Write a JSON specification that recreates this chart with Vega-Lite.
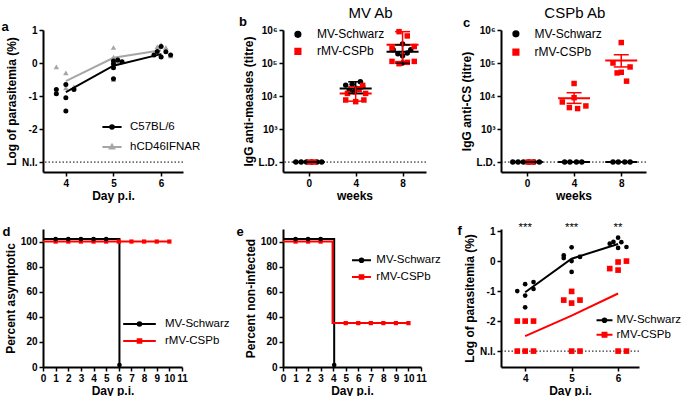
{
"$schema": "https://vega.github.io/schema/vega-lite/v6.json",
"background": "white",
"padding": {"left": 1, "top": 5, "right": 0, "bottom": 0},
"bounds": "flush",
"columns": 5,
"spacing": {"row": 57, "column": 0},
"align": {"row": "all", "column": "none"},
"resolve": {"scale": {"color": "independent", "fill": "independent", "stroke": "independent", "shape": "independent"}, "legend": {"color": "independent", "fill": "independent", "stroke": "independent", "shape": "independent"}},
"config": {
  "font": "Liberation Sans",
  "view": {"stroke": null},
  "axis": {"domainColor": "#000", "domainWidth": 2, "tickColor": "#000", "tickWidth": 1.5, "tickSize": 4, "labelFont": "Liberation Sans", "labelFontWeight": "bold", "labelFontSize": 10, "labelColor": "#000", "titleFont": "Liberation Sans", "titleFontWeight": "bold", "titleFontSize": 12, "titleColor": "#000", "grid": false, "labelFlush": false, "labelOverlap": false, "labelPadding": 2, "titlePadding": 3},
  "axisX": {"labelPadding": 2, "titlePadding": 2},
  "legend": {"labelFont": "Liberation Sans", "labelFontSize": 11.5, "labelColor": "#000", "padding": 0},
  "title": {"font": "Liberation Sans", "fontSize": 13, "fontWeight": "bold", "anchor": "start", "frame": "group", "baseline": "alphabetic", "offset": 0, "color": "#000"}
},
"datasets": {
  "a_pts": [
    {"s": "hCD46IFNAR", "day": 3.8, "val": -0.12}, {"s": "hCD46IFNAR", "day": 4.0, "val": -0.3}, {"s": "hCD46IFNAR", "day": 4.17, "val": -0.72}, {"s": "hCD46IFNAR", "day": 4.0, "val": -0.75}, {"s": "hCD46IFNAR", "day": 3.8, "val": -0.88},
    {"s": "hCD46IFNAR", "day": 5.0, "val": 0.18}, {"s": "hCD46IFNAR", "day": 5.0, "val": 0.47}, {"s": "hCD46IFNAR", "day": 5.0, "val": -0.5}, {"s": "hCD46IFNAR", "day": 5.09, "val": 0.05},
    {"s": "hCD46IFNAR", "day": 5.92, "val": 0.5}, {"s": "hCD46IFNAR", "day": 6.0, "val": 0.56}, {"s": "hCD46IFNAR", "day": 6.1, "val": 0.47}, {"s": "hCD46IFNAR", "day": 6.0, "val": 0.25}, {"s": "hCD46IFNAR", "day": 6.2, "val": 0.22},
    {"s": "C57BL/6", "day": 3.8, "val": -0.8}, {"s": "C57BL/6", "day": 3.8, "val": -0.93}, {"s": "C57BL/6", "day": 4.0, "val": -0.65}, {"s": "C57BL/6", "day": 4.0, "val": -1.05}, {"s": "C57BL/6", "day": 4.0, "val": -1.45}, {"s": "C57BL/6", "day": 4.17, "val": -0.8},
    {"s": "C57BL/6", "day": 5.0, "val": 0.06}, {"s": "C57BL/6", "day": 5.0, "val": -0.03}, {"s": "C57BL/6", "day": 5.0, "val": -0.14}, {"s": "C57BL/6", "day": 5.0, "val": -0.48}, {"s": "C57BL/6", "day": 5.09, "val": 0.09}, {"s": "C57BL/6", "day": 5.18, "val": 0.04},
    {"s": "C57BL/6", "day": 5.85, "val": 0.24}, {"s": "C57BL/6", "day": 5.92, "val": 0.35}, {"s": "C57BL/6", "day": 6.0, "val": 0.5}, {"s": "C57BL/6", "day": 6.0, "val": 0.18}, {"s": "C57BL/6", "day": 6.1, "val": 0.34}, {"s": "C57BL/6", "day": 6.2, "val": 0.24}
  ],
  "a_line": [
    {"s": "hCD46IFNAR", "day": 4, "val": -0.55}, {"s": "hCD46IFNAR", "day": 5, "val": 0.16}, {"s": "hCD46IFNAR", "day": 6, "val": 0.39},
    {"s": "C57BL/6", "day": 4, "val": -0.88}, {"s": "C57BL/6", "day": 5, "val": -0.08}, {"s": "C57BL/6", "day": 6, "val": 0.27}
  ],
  "b_pts": [
    {"g": "MV-Schwarz", "week": -1.1, "titre": 100}, {"g": "MV-Schwarz", "week": -0.65, "titre": 100}, {"g": "MV-Schwarz", "week": -0.2, "titre": 100}, {"g": "MV-Schwarz", "week": 0.25, "titre": 100}, {"g": "MV-Schwarz", "week": 0.7, "titre": 100}, {"g": "MV-Schwarz", "week": 1.1, "titre": 100},
    {"g": "MV-Schwarz", "week": 3.15, "titre": 21400}, {"g": "MV-Schwarz", "week": 3.7, "titre": 22900}, {"g": "MV-Schwarz", "week": 4.4, "titre": 26900}, {"g": "MV-Schwarz", "week": 3.45, "titre": 15100}, {"g": "MV-Schwarz", "week": 3.85, "titre": 13500}, {"g": "MV-Schwarz", "week": 4.1, "titre": 17000}, {"g": "MV-Schwarz", "week": 4.6, "titre": 19000},
    {"g": "MV-Schwarz", "week": 7.2, "titre": 251000}, {"g": "MV-Schwarz", "week": 8.0, "titre": 380000}, {"g": "MV-Schwarz", "week": 8.7, "titre": 251000}, {"g": "MV-Schwarz", "week": 7.6, "titre": 190000}, {"g": "MV-Schwarz", "week": 8.0, "titre": 166000}, {"g": "MV-Schwarz", "week": 8.4, "titre": 200000}, {"g": "MV-Schwarz", "week": 8.0, "titre": 100000},
    {"g": "rMV-CSPb", "week": 0.05, "titre": 100}, {"g": "rMV-CSPb", "week": 0.45, "titre": 100},
    {"g": "rMV-CSPb", "week": 3.15, "titre": 7590}, {"g": "rMV-CSPb", "week": 4.0, "titre": 6760}, {"g": "rMV-CSPb", "week": 4.7, "titre": 7590}, {"g": "rMV-CSPb", "week": 4.85, "titre": 12000}, {"g": "rMV-CSPb", "week": 3.3, "titre": 12000}, {"g": "rMV-CSPb", "week": 4.3, "titre": 16000}, {"g": "rMV-CSPb", "week": 4.6, "titre": 21000},
    {"g": "rMV-CSPb", "week": 7.1, "titre": 282000}, {"g": "rMV-CSPb", "week": 7.7, "titre": 891000}, {"g": "rMV-CSPb", "week": 8.4, "titre": 661000}, {"g": "rMV-CSPb", "week": 9.0, "titre": 316000}, {"g": "rMV-CSPb", "week": 7.1, "titre": 112000}, {"g": "rMV-CSPb", "week": 7.7, "titre": 95500}, {"g": "rMV-CSPb", "week": 8.4, "titre": 105000}, {"g": "rMV-CSPb", "week": 9.0, "titre": 112000}
  ],
  "b_sum": [
    {"g": "MV-Schwarz", "week": 0, "mean": 100, "lo": 100, "hi": 100},
    {"g": "MV-Schwarz", "week": 4, "mean": 17000, "lo": 12000, "hi": 27000},
    {"g": "MV-Schwarz", "week": 8, "mean": 219000, "lo": 100000, "hi": 355000},
    {"g": "rMV-CSPb", "week": 4, "mean": 12000, "lo": 7000, "hi": 19000},
    {"g": "rMV-CSPb", "week": 8, "mean": 355000, "lo": 110000, "hi": 890000}
  ],
  "c_pts": [
    {"g": "MV-Schwarz", "week": -1.2, "titre": 100}, {"g": "MV-Schwarz", "week": -0.75, "titre": 100}, {"g": "MV-Schwarz", "week": -0.3, "titre": 100}, {"g": "MV-Schwarz", "week": 0.15, "titre": 100}, {"g": "MV-Schwarz", "week": 0.6, "titre": 100}, {"g": "MV-Schwarz", "week": 1.05, "titre": 100},
    {"g": "MV-Schwarz", "week": 3.2, "titre": 100}, {"g": "MV-Schwarz", "week": 3.65, "titre": 100}, {"g": "MV-Schwarz", "week": 4.2, "titre": 100}, {"g": "MV-Schwarz", "week": 4.65, "titre": 100},
    {"g": "MV-Schwarz", "week": 7.3, "titre": 100}, {"g": "MV-Schwarz", "week": 7.75, "titre": 100}, {"g": "MV-Schwarz", "week": 8.3, "titre": 100}, {"g": "MV-Schwarz", "week": 8.75, "titre": 100},
    {"g": "rMV-CSPb", "week": 0.1, "titre": 100}, {"g": "rMV-CSPb", "week": 0.5, "titre": 100},
    {"g": "rMV-CSPb", "week": 4.0, "titre": 24000}, {"g": "rMV-CSPb", "week": 4.0, "titre": 8900}, {"g": "rMV-CSPb", "week": 3.0, "titre": 6600}, {"g": "rMV-CSPb", "week": 3.6, "titre": 4470}, {"g": "rMV-CSPb", "week": 4.3, "titre": 4170}, {"g": "rMV-CSPb", "week": 5.0, "titre": 5010},
    {"g": "rMV-CSPb", "week": 8.0, "titre": 417000}, {"g": "rMV-CSPb", "week": 7.3, "titre": 100000}, {"g": "rMV-CSPb", "week": 8.75, "titre": 75900}, {"g": "rMV-CSPb", "week": 8.0, "titre": 52500}, {"g": "rMV-CSPb", "week": 7.65, "titre": 50100}, {"g": "rMV-CSPb", "week": 8.45, "titre": 28200}
  ],
  "c_sum": [
    {"g": "MV-Schwarz", "week": 0, "mean": 100, "lo": 100, "hi": 100},
    {"g": "MV-Schwarz", "week": 4, "mean": 100, "lo": 100, "hi": 100},
    {"g": "MV-Schwarz", "week": 8, "mean": 100, "lo": 100, "hi": 100},
    {"g": "rMV-CSPb", "week": 4, "mean": 8500, "lo": 6000, "hi": 12600},
    {"g": "rMV-CSPb", "week": 8, "mean": 120000, "lo": 76000, "hi": 178000}
  ],
  "d_line": [
    {"g": "MV-Schwarz", "day": 0, "pct": 102}, {"g": "MV-Schwarz", "day": 6.05, "pct": 1.5},
    {"g": "rMV-CSPb", "day": 0, "pct": 100}, {"g": "rMV-CSPb", "day": 10, "pct": 100}
  ],
  "d_pts": [
    {"g": "rMV-CSPb", "day": 1, "pct": 100}, {"g": "rMV-CSPb", "day": 2, "pct": 100}, {"g": "rMV-CSPb", "day": 3, "pct": 100}, {"g": "rMV-CSPb", "day": 4, "pct": 100}, {"g": "rMV-CSPb", "day": 5, "pct": 100}, {"g": "rMV-CSPb", "day": 6, "pct": 100}, {"g": "rMV-CSPb", "day": 7, "pct": 100}, {"g": "rMV-CSPb", "day": 8, "pct": 100}, {"g": "rMV-CSPb", "day": 9, "pct": 100}, {"g": "rMV-CSPb", "day": 10, "pct": 100},
    {"g": "MV-Schwarz", "day": 1, "pct": 102}, {"g": "MV-Schwarz", "day": 2, "pct": 102}, {"g": "MV-Schwarz", "day": 3, "pct": 102}, {"g": "MV-Schwarz", "day": 4, "pct": 102}, {"g": "MV-Schwarz", "day": 5, "pct": 102}, {"g": "MV-Schwarz", "day": 6.05, "pct": 1.5}
  ],
  "e_line": [
    {"g": "MV-Schwarz", "day": 0, "pct": 102}, {"g": "MV-Schwarz", "day": 4.08, "pct": 1.5},
    {"g": "rMV-CSPb", "day": 0, "pct": 100}, {"g": "rMV-CSPb", "day": 3.95, "pct": 35}, {"g": "rMV-CSPb", "day": 10, "pct": 35}
  ],
  "e_pts": [
    {"g": "rMV-CSPb", "day": 1, "pct": 100}, {"g": "rMV-CSPb", "day": 2, "pct": 100}, {"g": "rMV-CSPb", "day": 3, "pct": 100}, {"g": "rMV-CSPb", "day": 5, "pct": 35}, {"g": "rMV-CSPb", "day": 6, "pct": 35}, {"g": "rMV-CSPb", "day": 7, "pct": 35}, {"g": "rMV-CSPb", "day": 8, "pct": 35}, {"g": "rMV-CSPb", "day": 9, "pct": 35}, {"g": "rMV-CSPb", "day": 10, "pct": 35},
    {"g": "MV-Schwarz", "day": 1, "pct": 102}, {"g": "MV-Schwarz", "day": 2, "pct": 102}, {"g": "MV-Schwarz", "day": 3, "pct": 102}, {"g": "MV-Schwarz", "day": 4.08, "pct": 1.5}
  ],
  "f_pts": [
    {"g": "rMV-CSPb", "day": 3.83, "val": -2}, {"g": "rMV-CSPb", "day": 4.0, "val": -2}, {"g": "rMV-CSPb", "day": 4.18, "val": -2}, {"g": "rMV-CSPb", "day": 3.83, "val": -3}, {"g": "rMV-CSPb", "day": 4.0, "val": -3}, {"g": "rMV-CSPb", "day": 4.18, "val": -3},
    {"g": "rMV-CSPb", "day": 4.83, "val": -1.3}, {"g": "rMV-CSPb", "day": 5.0, "val": -1.01}, {"g": "rMV-CSPb", "day": 5.0, "val": -1.4}, {"g": "rMV-CSPb", "day": 5.18, "val": -1.3}, {"g": "rMV-CSPb", "day": 5.0, "val": -3}, {"g": "rMV-CSPb", "day": 5.18, "val": -3},
    {"g": "rMV-CSPb", "day": 5.82, "val": -0.25}, {"g": "rMV-CSPb", "day": 6.0, "val": -0.03}, {"g": "rMV-CSPb", "day": 6.0, "val": -0.3}, {"g": "rMV-CSPb", "day": 6.18, "val": 0.0}, {"g": "rMV-CSPb", "day": 6.0, "val": -3}, {"g": "rMV-CSPb", "day": 6.18, "val": -3},
    {"g": "MV-Schwarz", "day": 3.83, "val": -1.0}, {"g": "MV-Schwarz", "day": 4.0, "val": -0.77}, {"g": "MV-Schwarz", "day": 4.0, "val": -1.15}, {"g": "MV-Schwarz", "day": 4.0, "val": -1.54}, {"g": "MV-Schwarz", "day": 4.18, "val": -0.7}, {"g": "MV-Schwarz", "day": 4.18, "val": -0.93},
    {"g": "MV-Schwarz", "day": 4.83, "val": 0.19}, {"g": "MV-Schwarz", "day": 4.83, "val": 0.1}, {"g": "MV-Schwarz", "day": 5.0, "val": 0.46}, {"g": "MV-Schwarz", "day": 5.0, "val": 0.0}, {"g": "MV-Schwarz", "day": 5.0, "val": -0.36}, {"g": "MV-Schwarz", "day": 5.18, "val": 0.14},
    {"g": "MV-Schwarz", "day": 5.82, "val": 0.58}, {"g": "MV-Schwarz", "day": 5.9, "val": 0.64}, {"g": "MV-Schwarz", "day": 6.0, "val": 0.78}, {"g": "MV-Schwarz", "day": 6.0, "val": 0.44}, {"g": "MV-Schwarz", "day": 6.07, "val": 0.63}, {"g": "MV-Schwarz", "day": 6.18, "val": 0.47}
  ],
  "f_line": [
    {"g": "MV-Schwarz", "day": 4, "val": -1.04}, {"g": "MV-Schwarz", "day": 5, "val": 0.08}, {"g": "MV-Schwarz", "day": 6, "val": 0.57},
    {"g": "rMV-CSPb", "day": 4, "val": -2.5}, {"g": "rMV-CSPb", "day": 5, "val": -1.82}, {"g": "rMV-CSPb", "day": 6, "val": -1.08}
  ],
  "f_stars": [
    {"day": 4, "stars": "***"}, {"day": 5, "stars": "***"}, {"day": 6, "stars": "**"}
  ]
},
"concat": [
  {
    "width": 140, "height": 142,
    "title": {"text": "a", "dx": -41.5, "dy": 13},
    "layer": [
      {"data": {"values": [{}]}, "mark": {"type": "rule", "strokeDash": [1.5, 2], "strokeWidth": 1, "color": "#000"}, "encoding": {"y": {"datum": -3, "type": "quantitative", "scale": {"domain": [-3.3, 1], "nice": false, "zero": false}}}},
      {"data": {"name": "a_line"}, "transform": [{"filter": "datum.s == 'hCD46IFNAR'"}], "mark": {"type": "line", "color": "#a6a6a6", "strokeWidth": 2},
       "encoding": {"x": {"field": "day", "type": "quantitative", "scale": {"domain": [3.52, 6.46], "nice": false, "zero": false}}, "y": {"field": "val", "type": "quantitative"}}},
      {"data": {"name": "a_pts"}, "transform": [{"filter": "datum.s == 'hCD46IFNAR'"}], "mark": {"type": "point", "shape": "triangle-up", "filled": true, "opacity": 1, "color": "#a6a6a6", "size": 30},
       "encoding": {"x": {"field": "day", "type": "quantitative"}, "y": {"field": "val", "type": "quantitative"}}},
      {"data": {"name": "a_line"}, "transform": [{"filter": "datum.s == 'C57BL/6'"}], "mark": {"type": "line", "color": "#000", "strokeWidth": 2},
       "encoding": {"x": {"field": "day", "type": "quantitative"}, "y": {"field": "val", "type": "quantitative"}}},
      {"data": {"name": "a_pts"}, "transform": [{"filter": "datum.s == 'C57BL/6'"}], "mark": {"type": "point", "shape": "circle", "filled": true, "opacity": 1, "color": "#000", "size": 25},
       "encoding": {
         "x": {"field": "day", "type": "quantitative", "scale": {"domain": [3.52, 6.46], "nice": false, "zero": false}, "axis": {"values": [4, 5, 6], "format": "d", "title": "Day p.i.", "labelOverlap": false}},
         "y": {"field": "val", "type": "quantitative", "scale": {"domain": [-3.3, 1], "nice": false, "zero": false}, "axis": {"values": [-3, -2, -1, 0, 1], "tickCount": 20, "title": "Log of parasitemia (%)", "labelOverlap": false, "labelExpr": "datum.value == -3 ? 'N.I.' : (datum.value < 0 ? '-' + abs(datum.value) : '' + datum.value)"}}
       }},
      {"data": {"values": []}, "mark": {"type": "point", "filled": true, "opacity": 1},
       "encoding": {
         "x": {"field": "day", "type": "quantitative"}, "y": {"field": "val", "type": "quantitative"},
         "fill": {"field": "s", "type": "nominal", "scale": {"domain": ["C57BL/6", "hCD46IFNAR"], "range": ["#000", "#a6a6a6"]}, "legend": {"title": null, "orient": "none", "legendX": 62, "legendY": 90, "symbolSize": 144, "symbolStrokeWidth": 2, "labelOffset": 11, "rowPadding": 7, "labelFontSize": 11.5}},
         "stroke": {"field": "s", "type": "nominal", "scale": {"domain": ["C57BL/6", "hCD46IFNAR"], "range": ["#000", "#a6a6a6"]}, "legend": {"title": null, "orient": "none", "legendX": 62, "legendY": 90, "symbolSize": 144, "symbolStrokeWidth": 2, "labelOffset": 11, "rowPadding": 7, "labelFontSize": 11.5}},
         "shape": {"field": "s", "type": "nominal", "scale": {"domain": ["C57BL/6", "hCD46IFNAR"], "range": ["M-1.6,0H1.6M-0.3,0A0.3,0.3,0,1,0,0.3,0A0.3,0.3,0,1,0,-0.3,0Z", "M-1.6,0H1.6M0,-0.38L0.36,0.26L-0.36,0.26Z"]}, "legend": {"title": null, "orient": "none", "legendX": 62, "legendY": 90, "symbolSize": 144, "symbolStrokeWidth": 2, "labelOffset": 11, "rowPadding": 7, "labelFontSize": 11.5}}
       }}
    ]
  },
  {"width": 92.5, "height": 142, "data": {"values": []}, "mark": "point", "encoding": {}},
  {
    "width": 143, "height": 142,
    "title": {"text": "b", "dx": -44, "dy": 28},
    "resolve": {"axis": {"x": "independent"}},
    "layer": [
      {"data": {"values": [{}]}, "mark": {"type": "rule", "strokeDash": [1.5, 2], "strokeWidth": 1, "color": "#000"},
       "encoding": {"y": {"datum": 100, "type": "quantitative", "scale": {"type": "log", "domain": [50, 1000000], "nice": false}}}},
      {"data": {"name": "b_pts"}, "mark": {"type": "point", "filled": true, "opacity": 1, "size": 30},
       "encoding": {
         "x": {"field": "week", "type": "quantitative", "scale": {"domain": [-2.2, 10], "nice": false, "zero": false}, "axis": {"values": [0, 4, 8], "format": "d", "title": "weeks", "labelOverlap": false}},
         "y": {"field": "titre", "type": "quantitative", "scale": {"type": "log", "domain": [50, 1000000], "nice": false}, "axis": {"values": [100, 1000, 10000, 100000, 1000000], "title": "IgG anti-measles (titre)", "labelOverlap": false, "labelExpr": "datum.value == 100 ? 'L.D.' : datum.value == 1000 ? '10³' : datum.value == 10000 ? '10⁴' : datum.value == 100000 ? '10⁵' : '10⁶'"}},
         "color": {"field": "g", "type": "nominal", "scale": {"domain": ["MV-Schwarz", "rMV-CSPb"], "range": ["#000", "#ff0000"]}, "legend": {"title": null, "orient": "none", "legendX": 8.9, "legendY": -1.7, "symbolSize": 32, "labelOffset": 13, "rowPadding": 5, "labelFontSize": 12}},
         "shape": {"field": "g", "type": "nominal", "scale": {"domain": ["MV-Schwarz", "rMV-CSPb"], "range": ["circle", "square"]}, "legend": {"title": null, "orient": "none", "legendX": 8.9, "legendY": -1.7, "symbolSize": 32, "labelOffset": 13, "rowPadding": 5, "labelFontSize": 12}}
       }},
      {"data": {"name": "b_sum"}, "mark": {"type": "tick", "orient": "horizontal", "size": 32, "thickness": 2, "opacity": 1},
       "encoding": {"x": {"field": "week", "type": "quantitative", "axis": null}, "y": {"field": "mean", "type": "quantitative"}, "color": {"field": "g", "type": "nominal", "legend": null}}},
      {"data": {"name": "b_sum"}, "mark": {"type": "tick", "orient": "horizontal", "size": 15, "thickness": 1.5, "opacity": 1},
       "encoding": {"x": {"field": "week", "type": "quantitative", "axis": null}, "y": {"field": "hi", "type": "quantitative"}, "color": {"field": "g", "type": "nominal", "legend": null}}},
      {"data": {"name": "b_sum"}, "mark": {"type": "tick", "orient": "horizontal", "size": 15, "thickness": 1.5, "opacity": 1},
       "encoding": {"x": {"field": "week", "type": "quantitative", "axis": null}, "y": {"field": "lo", "type": "quantitative"}, "color": {"field": "g", "type": "nominal", "legend": null}}},
      {"data": {"name": "b_sum"}, "mark": {"type": "rule", "strokeWidth": 1.5},
       "encoding": {"x": {"field": "week", "type": "quantitative", "axis": null}, "y": {"field": "lo", "type": "quantitative"}, "y2": {"field": "hi"}, "color": {"field": "g", "type": "nominal", "legend": null}}},
      {"data": {"values": []}, "mark": "point",
       "encoding": {"y": {"field": "titre", "type": "quantitative"}, "x": {"field": "week", "type": "quantitative", "axis": {"orient": "top", "title": "MV Ab", "domain": false, "ticks": false, "labels": false, "titleFontSize": 15, "titleFontWeight": "normal", "titleX": 87, "titleY": -12.7, "titleBaseline": "alphabetic", "titleAlign": "center"}}}}
    ]
  },
  {"width": 75, "height": 142, "data": {"values": []}, "mark": "point", "encoding": {}},
  {
    "width": 145, "height": 142,
    "title": {"text": "c", "dx": -38, "dy": 29},
    "resolve": {"axis": {"x": "independent"}},
    "layer": [
      {"data": {"values": [{}]}, "mark": {"type": "rule", "strokeDash": [1.5, 2], "strokeWidth": 1, "color": "#000"},
       "encoding": {"y": {"datum": 100, "type": "quantitative", "scale": {"type": "log", "domain": [50, 1000000], "nice": false}}}},
      {"data": {"name": "c_pts"}, "mark": {"type": "point", "filled": true, "opacity": 1, "size": 30},
       "encoding": {
         "x": {"field": "week", "type": "quantitative", "scale": {"domain": [-2.2, 10.1], "nice": false, "zero": false}, "axis": {"values": [0, 4, 8], "format": "d", "title": "weeks", "labelOverlap": false}},
         "y": {"field": "titre", "type": "quantitative", "scale": {"type": "log", "domain": [50, 1000000], "nice": false}, "axis": {"values": [100, 1000, 10000, 100000, 1000000], "title": "IgG anti-CS (titre)", "labelOverlap": false, "labelExpr": "datum.value == 100 ? 'L.D.' : datum.value == 1000 ? '10³' : datum.value == 10000 ? '10⁴' : datum.value == 100000 ? '10⁵' : '10⁶'"}},
         "color": {"field": "g", "type": "nominal", "scale": {"domain": ["MV-Schwarz", "rMV-CSPb"], "range": ["#000", "#ff0000"]}, "legend": {"title": null, "orient": "none", "legendX": 8.9, "legendY": -2.2, "symbolSize": 32, "labelOffset": 12.5, "rowPadding": 6.4, "labelFontSize": 12}},
         "shape": {"field": "g", "type": "nominal", "scale": {"domain": ["MV-Schwarz", "rMV-CSPb"], "range": ["circle", "square"]}, "legend": {"title": null, "orient": "none", "legendX": 8.9, "legendY": -2.2, "symbolSize": 32, "labelOffset": 12.5, "rowPadding": 6.4, "labelFontSize": 12}}
       }},
      {"data": {"name": "c_sum"}, "mark": {"type": "tick", "orient": "horizontal", "size": 32, "thickness": 2, "opacity": 1},
       "encoding": {"x": {"field": "week", "type": "quantitative", "axis": null}, "y": {"field": "mean", "type": "quantitative"}, "color": {"field": "g", "type": "nominal", "legend": null}}},
      {"data": {"name": "c_sum"}, "mark": {"type": "tick", "orient": "horizontal", "size": 15, "thickness": 1.5, "opacity": 1},
       "encoding": {"x": {"field": "week", "type": "quantitative", "axis": null}, "y": {"field": "hi", "type": "quantitative"}, "color": {"field": "g", "type": "nominal", "legend": null}}},
      {"data": {"name": "c_sum"}, "mark": {"type": "tick", "orient": "horizontal", "size": 15, "thickness": 1.5, "opacity": 1},
       "encoding": {"x": {"field": "week", "type": "quantitative", "axis": null}, "y": {"field": "lo", "type": "quantitative"}, "color": {"field": "g", "type": "nominal", "legend": null}}},
      {"data": {"name": "c_sum"}, "mark": {"type": "rule", "strokeWidth": 1.5},
       "encoding": {"x": {"field": "week", "type": "quantitative", "axis": null}, "y": {"field": "lo", "type": "quantitative"}, "y2": {"field": "hi"}, "color": {"field": "g", "type": "nominal", "legend": null}}},
      {"data": {"values": []}, "mark": "point",
       "encoding": {"y": {"field": "titre", "type": "quantitative"}, "x": {"field": "week", "type": "quantitative", "axis": {"orient": "top", "title": "CSPb Ab", "domain": false, "ticks": false, "labels": false, "titleFontSize": 15, "titleFontWeight": "normal", "titleX": 73.3, "titleY": -12.7, "titleBaseline": "alphabetic", "titleAlign": "center"}}}}
    ]
  },
  {
    "width": 139, "height": 138,
    "title": {"text": "d", "dx": -40.5, "dy": 14},
    "encoding": {
      "x": {"field": "day", "type": "quantitative", "scale": {"domain": [0, 11], "nice": false, "zero": false}, "axis": {"values": [0, 1, 2, 3, 4, 5, 6, 7, 8, 9, 10, 11], "format": "d", "title": "Day p.i.", "labelOverlap": false}},
      "y": {"field": "pct", "type": "quantitative", "scale": {"domain": [0, 110], "nice": false, "zero": false}, "axis": {"values": [0, 20, 40, 60, 80, 100], "format": "d", "title": "Percent asymptotic", "labelOverlap": false}}
    },
    "layer": [
      {"data": {"name": "d_line"}, "transform": [{"filter": "datum.g == 'MV-Schwarz'"}], "mark": {"type": "line", "interpolate": "step-after", "color": "#000", "strokeWidth": 2}},
      {"data": {"name": "d_line"}, "transform": [{"filter": "datum.g == 'rMV-CSPb'"}], "mark": {"type": "line", "interpolate": "step-after", "color": "#ff0000", "strokeWidth": 2}},
      {"data": {"name": "d_pts"}, "transform": [{"filter": "datum.g == 'rMV-CSPb'"}], "mark": {"type": "point", "shape": "square", "filled": true, "opacity": 1, "color": "#ff0000", "size": 18}},
      {"data": {"name": "d_pts"}, "transform": [{"filter": "datum.g == 'MV-Schwarz'"}], "mark": {"type": "point", "shape": "circle", "filled": true, "opacity": 1, "color": "#000", "size": 22}},
      {"data": {"values": []}, "mark": {"type": "point", "filled": true, "opacity": 1},
       "encoding": {
         "fill": {"field": "g", "type": "nominal", "scale": {"domain": ["MV-Schwarz", "rMV-CSPb"], "range": ["#000", "#ff0000"]}, "legend": {"title": null, "orient": "none", "legendX": 89.5, "legendY": 88, "symbolSize": 144, "symbolStrokeWidth": 2, "labelOffset": 18.5, "rowPadding": 4, "labelFontSize": 11.5}},
         "stroke": {"field": "g", "type": "nominal", "scale": {"domain": ["MV-Schwarz", "rMV-CSPb"], "range": ["#000", "#ff0000"]}, "legend": {"title": null, "orient": "none", "legendX": 89.5, "legendY": 88, "symbolSize": 144, "symbolStrokeWidth": 2, "labelOffset": 18.5, "rowPadding": 4, "labelFontSize": 11.5}},
         "shape": {"field": "g", "type": "nominal", "scale": {"domain": ["MV-Schwarz", "rMV-CSPb"], "range": ["M-2.72,0H2.72M-0.3,0A0.3,0.3,0,1,0,0.3,0A0.3,0.3,0,1,0,-0.3,0Z", "M-2.72,0H2.72M-0.3,-0.3H0.3V0.3H-0.3Z"]}, "legend": {"title": null, "orient": "none", "legendX": 89.5, "legendY": 88, "symbolSize": 144, "symbolStrokeWidth": 2, "labelOffset": 18.5, "rowPadding": 4, "labelFontSize": 11.5}}
       }}
    ]
  },
  {"width": 100, "height": 138, "data": {"values": []}, "mark": "point", "encoding": {}},
  {
    "width": 138, "height": 138,
    "title": {"text": "e", "dx": -46.5, "dy": 14},
    "encoding": {
      "x": {"field": "day", "type": "quantitative", "scale": {"domain": [0, 11], "nice": false, "zero": false}, "axis": {"values": [0, 1, 2, 3, 4, 5, 6, 7, 8, 9, 10, 11], "format": "d", "title": "Day p.i.", "labelOverlap": false}},
      "y": {"field": "pct", "type": "quantitative", "scale": {"domain": [0, 110], "nice": false, "zero": false}, "axis": {"values": [0, 20, 40, 60, 80, 100], "format": "d", "title": "Percent non-infected", "labelOverlap": false}}
    },
    "layer": [
      {"data": {"name": "e_line"}, "transform": [{"filter": "datum.g == 'MV-Schwarz'"}], "mark": {"type": "line", "interpolate": "step-after", "color": "#000", "strokeWidth": 2}},
      {"data": {"name": "e_line"}, "transform": [{"filter": "datum.g == 'rMV-CSPb'"}], "mark": {"type": "line", "interpolate": "step-after", "color": "#ff0000", "strokeWidth": 2}},
      {"data": {"name": "e_pts"}, "transform": [{"filter": "datum.g == 'rMV-CSPb'"}], "mark": {"type": "point", "shape": "square", "filled": true, "opacity": 1, "color": "#ff0000", "size": 18}},
      {"data": {"name": "e_pts"}, "transform": [{"filter": "datum.g == 'MV-Schwarz'"}], "mark": {"type": "point", "shape": "circle", "filled": true, "opacity": 1, "color": "#000", "size": 22}},
      {"data": {"values": []}, "mark": {"type": "point", "filled": true, "opacity": 1},
       "encoding": {
         "fill": {"field": "g", "type": "nominal", "scale": {"domain": ["MV-Schwarz", "rMV-CSPb"], "range": ["#000", "#ff0000"]}, "legend": {"title": null, "orient": "none", "legendX": 71.5, "legendY": 24.3, "symbolSize": 144, "symbolStrokeWidth": 2, "labelOffset": 7.8, "rowPadding": 3.7, "labelFontSize": 11.5}},
         "stroke": {"field": "g", "type": "nominal", "scale": {"domain": ["MV-Schwarz", "rMV-CSPb"], "range": ["#000", "#ff0000"]}, "legend": {"title": null, "orient": "none", "legendX": 71.5, "legendY": 24.3, "symbolSize": 144, "symbolStrokeWidth": 2, "labelOffset": 7.8, "rowPadding": 3.7, "labelFontSize": 11.5}},
         "shape": {"field": "g", "type": "nominal", "scale": {"domain": ["MV-Schwarz", "rMV-CSPb"], "range": ["M-1.58,0H1.58M-0.3,0A0.3,0.3,0,1,0,0.3,0A0.3,0.3,0,1,0,-0.3,0Z", "M-1.58,0H1.58M-0.3,-0.3H0.3V0.3H-0.3Z"]}, "legend": {"title": null, "orient": "none", "legendX": 71.5, "legendY": 24.3, "symbolSize": 144, "symbolStrokeWidth": 2, "labelOffset": 7.8, "rowPadding": 3.7, "labelFontSize": 11.5}}
       }}
    ]
  },
  {"width": 73.5, "height": 138, "data": {"values": []}, "mark": "point", "encoding": {}},
  {
    "width": 138, "height": 138,
    "title": {"text": "f", "dx": -43.5, "dy": 20},
    "layer": [
      {"data": {"values": [{}]}, "mark": {"type": "rule", "strokeDash": [1.5, 2], "strokeWidth": 1, "color": "#000"}, "encoding": {"y": {"datum": -3, "type": "quantitative", "scale": {"domain": [-3.53, 1.07], "nice": false, "zero": false}}}},
      {"data": {"name": "f_line"}, "transform": [{"filter": "datum.g == 'rMV-CSPb'"}], "mark": {"type": "line", "color": "#ff0000", "strokeWidth": 2},
       "encoding": {"x": {"field": "day", "type": "quantitative", "scale": {"domain": [3.48, 6.45], "nice": false, "zero": false}}, "y": {"field": "val", "type": "quantitative"}}},
      {"data": {"name": "f_pts"}, "transform": [{"filter": "datum.g == 'rMV-CSPb'"}], "mark": {"type": "point", "shape": "square", "filled": true, "opacity": 1, "color": "#ff0000", "size": 32},
       "encoding": {"x": {"field": "day", "type": "quantitative"}, "y": {"field": "val", "type": "quantitative"}}},
      {"data": {"name": "f_line"}, "transform": [{"filter": "datum.g == 'MV-Schwarz'"}], "mark": {"type": "line", "color": "#000", "strokeWidth": 2},
       "encoding": {"x": {"field": "day", "type": "quantitative"}, "y": {"field": "val", "type": "quantitative"}}},
      {"data": {"name": "f_pts"}, "transform": [{"filter": "datum.g == 'MV-Schwarz'"}], "mark": {"type": "point", "shape": "circle", "filled": true, "opacity": 1, "color": "#000", "size": 22},
       "encoding": {
         "x": {"field": "day", "type": "quantitative", "scale": {"domain": [3.48, 6.45], "nice": false, "zero": false}, "axis": {"values": [4, 5, 6], "format": "d", "title": "Day p.i.", "labelOverlap": false}},
         "y": {"field": "val", "type": "quantitative", "scale": {"domain": [-3.53, 1.07], "nice": false, "zero": false}, "axis": {"values": [-3, -2, -1, 0, 1], "tickCount": 20, "title": "Log of parasitemia (%)", "labelOverlap": false, "labelExpr": "datum.value == -3 ? 'N.I.' : (datum.value < 0 ? '-' + abs(datum.value) : '' + datum.value)"}}
       }},
      {"data": {"name": "f_stars"}, "mark": {"type": "text", "font": "Liberation Sans", "fontSize": 11.5, "baseline": "alphabetic", "color": "#000"},
       "encoding": {"x": {"field": "day", "type": "quantitative"}, "y": {"datum": 1, "type": "quantitative"}, "text": {"field": "stars"}}},
      {"data": {"values": []}, "mark": {"type": "point", "filled": true, "opacity": 1},
       "encoding": {
         "x": {"field": "day", "type": "quantitative"}, "y": {"field": "val", "type": "quantitative"},
         "fill": {"field": "g", "type": "nominal", "scale": {"domain": ["MV-Schwarz", "rMV-CSPb"], "range": ["#000", "#ff0000"]}, "legend": {"title": null, "orient": "none", "legendX": 96.5, "legendY": 84.3, "symbolSize": 144, "symbolStrokeWidth": 2, "labelOffset": 5, "rowPadding": 1.4, "labelFontSize": 11.5}},
         "stroke": {"field": "g", "type": "nominal", "scale": {"domain": ["MV-Schwarz", "rMV-CSPb"], "range": ["#000", "#ff0000"]}, "legend": {"title": null, "orient": "none", "legendX": 96.5, "legendY": 84.3, "symbolSize": 144, "symbolStrokeWidth": 2, "labelOffset": 5, "rowPadding": 1.4, "labelFontSize": 11.5}},
         "shape": {"field": "g", "type": "nominal", "scale": {"domain": ["MV-Schwarz", "rMV-CSPb"], "range": ["M-1.33,0H1.33M-0.3,0A0.3,0.3,0,1,0,0.3,0A0.3,0.3,0,1,0,-0.3,0Z", "M-1.33,0H1.33M-0.33,-0.33H0.33V0.33H-0.33Z"]}, "legend": {"title": null, "orient": "none", "legendX": 96.5, "legendY": 84.3, "symbolSize": 144, "symbolStrokeWidth": 2, "labelOffset": 5, "rowPadding": 1.4, "labelFontSize": 11.5}}
       }}
    ]
  }
]
}
